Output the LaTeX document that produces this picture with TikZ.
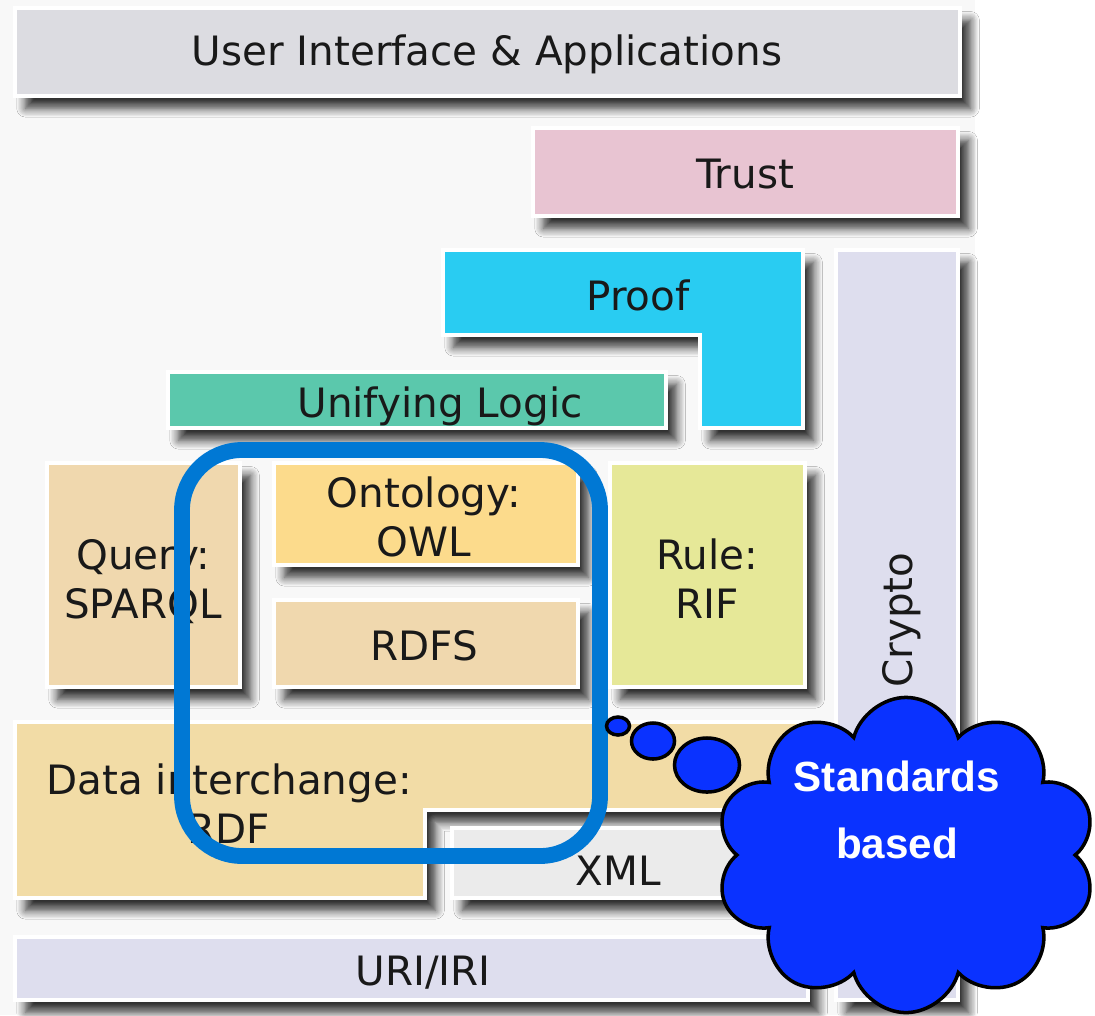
\documentclass[tikz,border=0pt]{standalone}
\usepackage{fontspec}
\setmainfont{DejaVu Sans}
\newfontfamily\cloudfont{Liberation Sans}
\usetikzlibrary{shadows.blur,shapes.symbols,shapes.geometric}
\definecolor{paper}{HTML}{F8F8F8}
\definecolor{uigray}{HTML}{DCDCE1}
\definecolor{trustpink}{HTML}{E8C4D2}
\definecolor{proofcyan}{HTML}{29CCF2}
\definecolor{logicgreen}{HTML}{5BC8AC}
\definecolor{querytan}{HTML}{F0D8AE}
\definecolor{owlyellow}{HTML}{FCDB8C}
\definecolor{rifyellow}{HTML}{E6E898}
\definecolor{rdftan}{HTML}{F2DCA6}
\definecolor{xmlgray}{HTML}{EBEBEB}
\definecolor{urilav}{HTML}{DEDEEE}
\definecolor{ringblue}{HTML}{0078D4}
\definecolor{cloudblue}{HTML}{0A32FF}

\begin{document}
\begin{tikzpicture}[x=0.01cm,y=-0.01cm,
   layer/.style={draw=white,line width=1pt,
     blur shadow={shadow xshift=3pt,shadow yshift=-3.5pt,shadow blur steps=8,shadow blur radius=2.5pt,shadow opacity=80}},
   lbl/.style={font=\fontsize{11.5}{13.66}\selectfont,align=center,text=black!90,anchor=base},
   ring/.style={draw=ringblue,line width=4.5pt,rounded corners=0.6cm},
   bubble/.style={ellipse,draw=black,line width=1pt,fill=cloudblue,inner sep=0pt}]
   \path[use as bounding box] (0,0) rectangle (1095,1015);
   \fill[white] (0,0) rectangle (1095,1015);
   \fill[paper] (0,0) rectangle (975,1015);
   % layers
   \draw[layer,fill=uigray]    ( 15,  8) rectangle (960,  96);
   \draw[layer,fill=trustpink] (533,128) rectangle (958, 216);
   \draw[layer,fill=urilav]    (836,250) rectangle (958,1000);
   \draw[layer,fill=proofcyan] (443,250) -- (803,250) -- (803,428) -- (700,428) -- (700,335) -- (443,335) -- cycle;
   \draw[layer,fill=logicgreen](168,372) rectangle (666, 428);
   \draw[layer,fill=querytan]  ( 47,463) rectangle (240, 687);
   \draw[layer,fill=owlyellow] (274,463) rectangle (578, 565);
   \draw[layer,fill=querytan]  (274,600) rectangle (578, 687);
   \draw[layer,fill=rifyellow] (610,463) rectangle (805, 687);
   \draw[layer,fill=rdftan]    ( 15,722) -- (805,722) -- (805,810) -- (425,810) -- (425,898) -- (15,898) -- cycle;
   \draw[layer,fill=xmlgray]   (452,828) rectangle (805, 898);
   \draw[layer,fill=urilav]    ( 15,937) rectangle (808,1000);
   \node[lbl] (ui)     at (487, 65) {User Interface \& Applications};
   \node[lbl] (trust)  at (745,188) {Trust};
   \node[lbl] (proof)  at (638,310) {Proof};
   \node[lbl] (logic)  at (440,417) {Unifying Logic};
   \node[lbl] (query)  at (143,618) {Query:\\SPARQL};
   \node[lbl] (owl)    at (424,556) {Ontology:\\OWL};
   \node[lbl] (rdfs)   at (424,660) {RDFS};
   \node[lbl] (rif)    at (707,618) {Rule:\\RIF};
   \node[lbl,rotate=90] (crypto) at (912,620) {Crypto};
   \node[lbl] (rdf)    at (229,843) {Data interchange:\\RDF};
   \node[lbl] (xml)    at (618,885) {XML};
   \node[lbl] (uri)    at (423,985) {URI/IRI};
   % standards based
   \draw[ring] (182,450) rectangle (600,856);
   \node[bubble,minimum width=0.23cm,minimum height=0.18cm] (b1) at (618,726) {};
   \node[bubble,minimum width=0.43cm,minimum height=0.36cm] (b2) at (653,741) {};
   \node[bubble,minimum width=0.65cm,minimum height=0.54cm] (b3) at (707,765) {};
   \node[cloud,cloud puffs=10,cloud ignores aspect,draw=black,line width=1pt,fill=cloudblue,
         minimum width=3.8cm,minimum height=3.15cm] (cloud) at (906,855) {};
   \node[anchor=base,align=center,text=white,font=\cloudfont\bfseries\fontsize{12}{18.8}\selectfont]
         (std) at (897,858) {Standards\\based};
\end{tikzpicture}
\end{document}
